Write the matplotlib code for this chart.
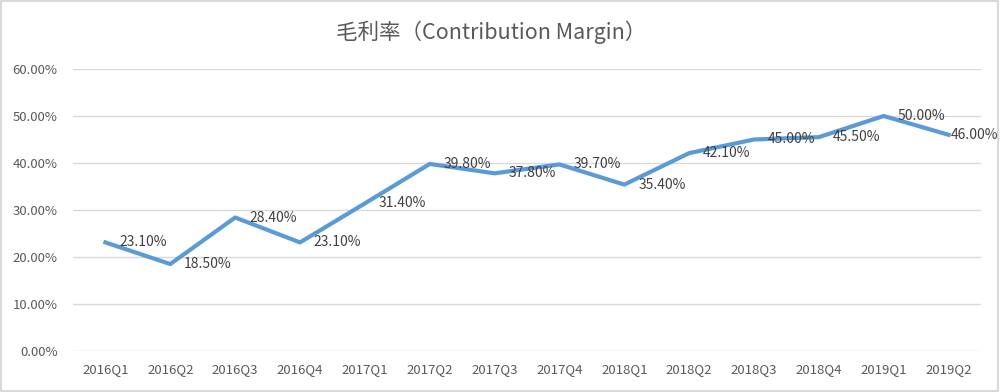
import matplotlib.pyplot as plt
from matplotlib.patches import Rectangle
from matplotlib.ticker import PercentFormatter

plt.rcParams['font.family'] = ['Noto Sans CJK JP', 'DejaVu Sans']

quarters = ["2016Q1", "2016Q2", "2016Q3", "2016Q4", "2017Q1", "2017Q2", "2017Q3",
            "2017Q4", "2018Q1", "2018Q2", "2018Q3", "2018Q4", "2019Q1", "2019Q2"]
margin = [23.1, 18.5, 28.4, 23.1, 31.4, 39.8, 37.8, 39.7, 35.4, 42.1, 45.0, 45.5, 50.0, 46.0]
y_ticks = [0, 10, 20, 30, 40, 50, 60]
title = "毛利率（Contribution Margin）"


def main():
    fig = plt.figure(figsize=(10, 3.92), dpi=100)
    ax = fig.add_axes([0.073, 0.1046, 0.908, 0.7194])

    x = list(range(len(quarters)))
    ax.plot(x, margin, color="#5B9BD5", linewidth=3, solid_joinstyle="round", zorder=3)
    for xi, v in zip(x, margin):
        # last label gets pushed in so it fits inside the frame (as excel does)
        off = 1.5 if xi == len(quarters) - 1 else 10
        ax.annotate(f"{v:.2f}%", (xi, v), xytext=(off, 0), textcoords="offset points",
                    ha="left", va="center", fontsize=10, color="#404040", zorder=4)

    ax.set_xlim(-0.5, len(quarters) - 0.5)
    ax.set_ylim(0, 60)
    ax.set_yticks(y_ticks)
    ax.yaxis.set_major_formatter(PercentFormatter(decimals=2))
    ax.set_xticks(x)
    ax.set_xticklabels(quarters)
    ax.grid(axis="y", color="#D9D9D9", linewidth=1)
    ax.set_axisbelow(True)
    for s in ax.spines.values():
        s.set_visible(False)
    ax.tick_params(axis="both", length=0, labelsize=9.5, colors="#595959")
    ax.tick_params(axis="y", pad=11)
    ax.tick_params(axis="x", pad=9)

    fig.text(0.491, 0.918, title, ha="center", va="center", fontsize=15.5, color="#595959")
    fig.patches.append(Rectangle((0.001, 0.002), 0.997, 0.995, transform=fig.transFigure,
                                 fill=False, edgecolor="#D9D9D9", linewidth=1.5))

    fig.savefig("out.png", dpi=100)


if __name__ == "__main__":
    main()
